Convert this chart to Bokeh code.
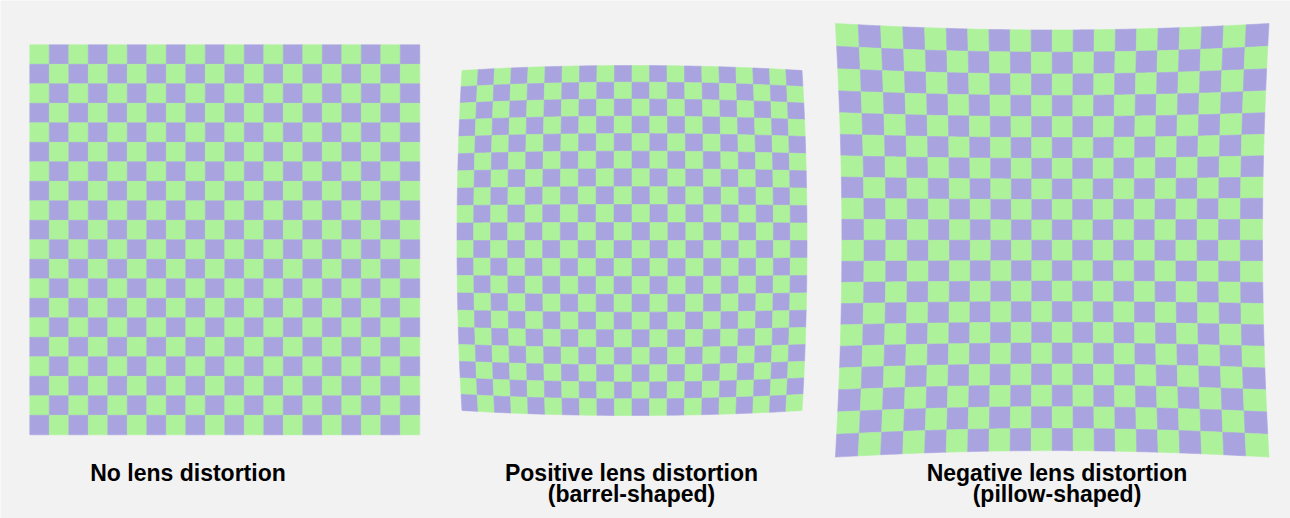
import numpy as np
from bokeh.plotting import figure
from bokeh.models import Range1d, ColumnDataSource
from bokeh.core.properties import value
from bokeh.embed import file_html
from bokeh.resources import INLINE

# ---- data ----
grid_n = 20                                   # cells per side
titles = [["No lens distortion"],
          ["Positive lens distortion", "(barrel-shaped)"],
          ["Negative lens distortion", "(pillow-shaped)"]]
distortion_k = [0.0, -0.0278, 0.0319]         # radial distortion coefficient
cell_colors = ["#adf29b", "#a9a4e0"]          # green, purple

# ---- layout (pixel coordinates of the page) ----
centers = [(224.3, 239.3), (631.5, 240.0), (1051.7, 239.8)]
half_size = [195.0, 180.0, 203.8]
title_x = [187.5, 631.0, 1056.5]
title_y = [472.5, 493.5]
BG = "#f2f2f2"

W, H = 1290, 518
p = figure(width=W, height=H, x_range=Range1d(0, W), y_range=Range1d(H, 0),
           output_backend="svg", toolbar_location=None, min_border=0,
           background_fill_color=BG, border_fill_color=BG, outline_line_color=None)
p.axis.visible = False
p.grid.visible = False

m = 5  # subdivisions per cell edge, to show the curvature
for (cx, cy), a, k in zip(centers, half_size, distortion_k):
    xs, ys, cols = [], [], []
    t = np.linspace(0, 1, m + 1)
    for r in range(grid_n):
        for c in range(grid_n):
            u0, u1 = -1 + 2 * c / grid_n, -1 + 2 * (c + 1) / grid_n
            v0, v1 = -1 + 2 * r / grid_n, -1 + 2 * (r + 1) / grid_n
            u = np.concatenate([u0 + (u1 - u0) * t, np.full(m, u1), u1 - (u1 - u0) * t[1:], np.full(m - 1, u0)])
            v = np.concatenate([np.full(m + 1, v0), v0 + (v1 - v0) * t[1:], np.full(m, v1), v1 - (v1 - v0) * t[1:-1]])
            s = 1 + k * (u ** 2 + v ** 2)
            xs.append(list(cx + a * u * s))
            ys.append(list(cy + a * v * s))
            cols.append(cell_colors[(r + c) % 2])
    src = ColumnDataSource(dict(xs=xs, ys=ys, color=cols))
    p.patches("xs", "ys", source=src, fill_color="color", line_color="color", line_width=0.6)

tx, ty, tt = [], [], []
for x, lines in zip(title_x, titles):
    for i, line in enumerate(lines):
        tx.append(x)
        ty.append(title_y[i])
        tt.append(line)
p.text(x=tx, y=ty, text=tt, text_font=value("Liberation Sans"), text_font_style="bold",
       text_font_size="23px", text_align="center", text_baseline="alphabetic", text_color="#000000")

html = file_html(p, INLINE)
html = html.replace("<body>", '<body style="background:%s">' % BG, 1)
open("out.html", "w").write(html)
